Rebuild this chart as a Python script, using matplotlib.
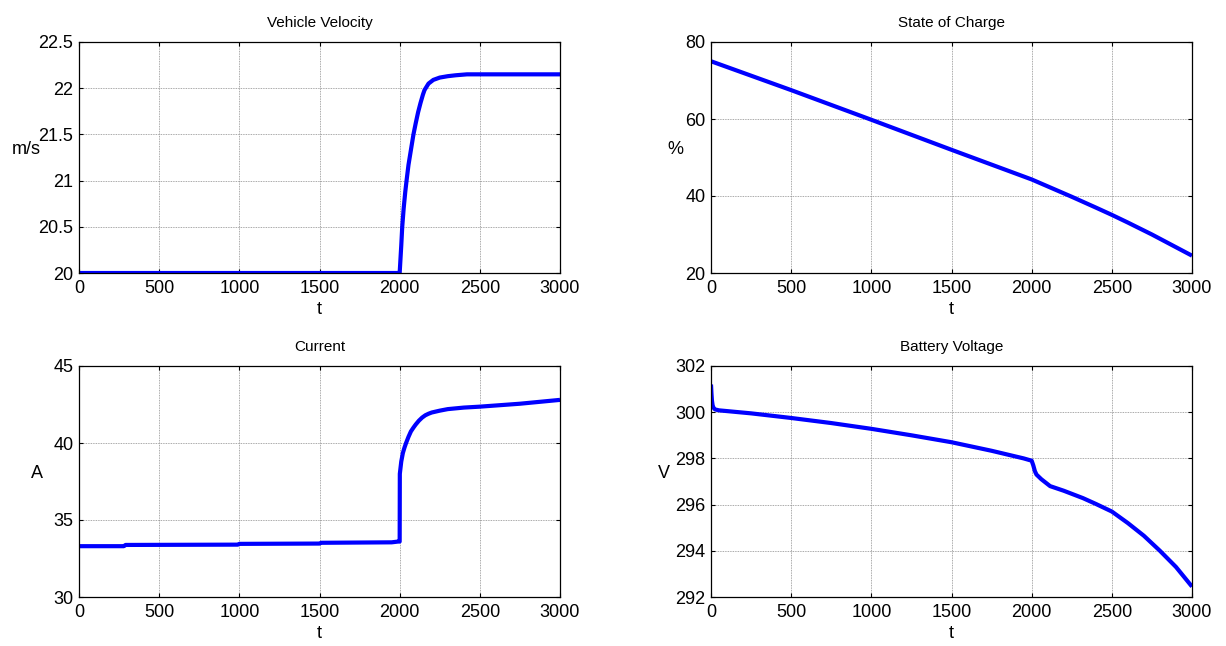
import matplotlib
matplotlib.use("Agg")
import matplotlib.pyplot as plt
import numpy as np

plt.rcParams['font.family'] = ['Liberation Sans', 'DejaVu Sans']
plt.rcParams['font.size'] = 10.5

# Data
vel_t = [0, 1000, 1995, 2000, 2005, 2010, 2016, 2025, 2035, 2043, 2055, 2070, 2086, 2100, 2115, 2130, 2145,
         2155, 2180, 2210, 2250, 2300, 2350, 2420, 2500, 3000]
vel_v = [20, 20, 20, 20.0, 20.15, 20.3, 20.5, 20.7, 20.88, 21.0, 21.17, 21.33, 21.5, 21.62, 21.74, 21.84, 21.93,
         21.98, 22.05, 22.09, 22.115, 22.13, 22.14, 22.15, 22.15, 22.15]

soc_t = [0, 500, 1000, 1500, 2000, 2100, 2250, 2400, 2500, 2600, 2750, 2850, 3000]
soc_v = [75.0, 67.5, 59.8, 52.0, 44.3, 42.5, 39.8, 37.0, 35.1, 33.1, 30.0, 27.8, 24.5]

cur_t = [0, 280, 290, 990, 1000, 1500, 1510, 1950, 1990, 2000, 2001, 2010, 2020, 2030, 2040, 2055, 2070, 2086,
         2100, 2120, 2140, 2160, 2180, 2200, 2250, 2300, 2400, 2500, 2750, 3000]
cur_v = [33.3, 33.3, 33.38, 33.4, 33.45, 33.47, 33.52, 33.55, 33.6, 33.6, 38.0, 38.8, 39.35, 39.7, 40.0, 40.4,
         40.75, 41.0, 41.2, 41.45, 41.65, 41.8, 41.9, 41.98, 42.1, 42.2, 42.3, 42.36, 42.55, 42.8]

volt_t = [0, 3, 6, 10, 15, 25, 50, 250, 500, 750, 1000, 1250, 1500, 1750, 1950, 2000, 2010, 2020, 2030, 2060,
          2115, 2200, 2320, 2400, 2500, 2600, 2700, 2800, 2900, 3000]
volt_v = [301.2, 300.8, 300.5, 300.3, 300.2, 300.12, 300.08, 299.95, 299.75, 299.53, 299.28, 299.0, 298.7,
          298.33, 298.0, 297.9, 297.7, 297.45, 297.3, 297.1, 296.8, 296.6, 296.28, 296.03, 295.7, 295.2,
          294.65, 294.0, 293.3, 292.45]

titles = ["Vehicle Velocity", "State of Charge", "Current", "Battery Voltage"]
ylabels = ["m/s", "%", "A", "V"]
series = [(vel_t, vel_v), (soc_t, soc_v), (cur_t, cur_v), (volt_t, volt_v)]
ylims = [(20, 22.5), (20, 80), (30, 45), (292, 302)]
yticks = [[20, 20.5, 21, 21.5, 22, 22.5], [20, 40, 60, 80], [30, 35, 40, 45], [292, 294, 296, 298, 300, 302]]
yticklabels = [['20', '20.5', '21', '21.5', '22', '22.5'], ['20', '40', '60', '80'],
               ['30', '35', '40', '45'], ['292', '294', '296', '298', '300', '302']]
xticks = [0, 500, 1000, 1500, 2000, 2500, 3000]

W, H = 1226, 646
fig = plt.figure(figsize=(W / 100, H / 100), dpi=100)

boxes = [(79, 42, 560, 273), (711, 42, 1192, 273), (79, 366, 560, 597), (711, 366, 1192, 597)]
label_dx = [26 - 79, 675 - 711, 37 - 79, 664 - 711]

for i, ((x0, y0, x1, y1), dx) in enumerate(zip(boxes, label_dx)):
    t, v = series[i]
    ax = fig.add_axes([x0 / W, 1 - y1 / H, (x1 - x0) / W, (y1 - y0) / H])
    ax.plot(t, v, color='#0000ff', lw=3.0, solid_joinstyle='round', solid_capstyle='butt')
    ax.set_xlim(0, 3000)
    ax.set_ylim(*ylims[i])
    ax.set_xticks(xticks)
    ax.set_xticklabels([str(x) for x in xticks])
    ax.set_yticks(yticks[i])
    ax.set_yticklabels(yticklabels[i])
    ax.tick_params(direction='in', top=True, right=True, length=3, width=0.8, labelsize=13)
    ax.tick_params(axis='x', pad=5)
    ax.tick_params(axis='y', pad=4)
    ax.grid(True, color='#8c8c8c', linestyle=(0, (1, 1)), linewidth=0.6)
    for s in ax.spines.values():
        s.set_linewidth(0.9)
    ax.set_title(titles[i], fontsize=11, pad=11)
    ax.set_xlabel('t', fontsize=13, labelpad=3)
    ax.set_ylabel(ylabels[i], rotation=0, fontsize=13, va='center', ha='center')
    ax.yaxis.set_label_coords(dx / (x1 - x0), 0.5 + 8 / (y1 - y0))

fig.savefig('out.png', dpi=100, facecolor='white')
